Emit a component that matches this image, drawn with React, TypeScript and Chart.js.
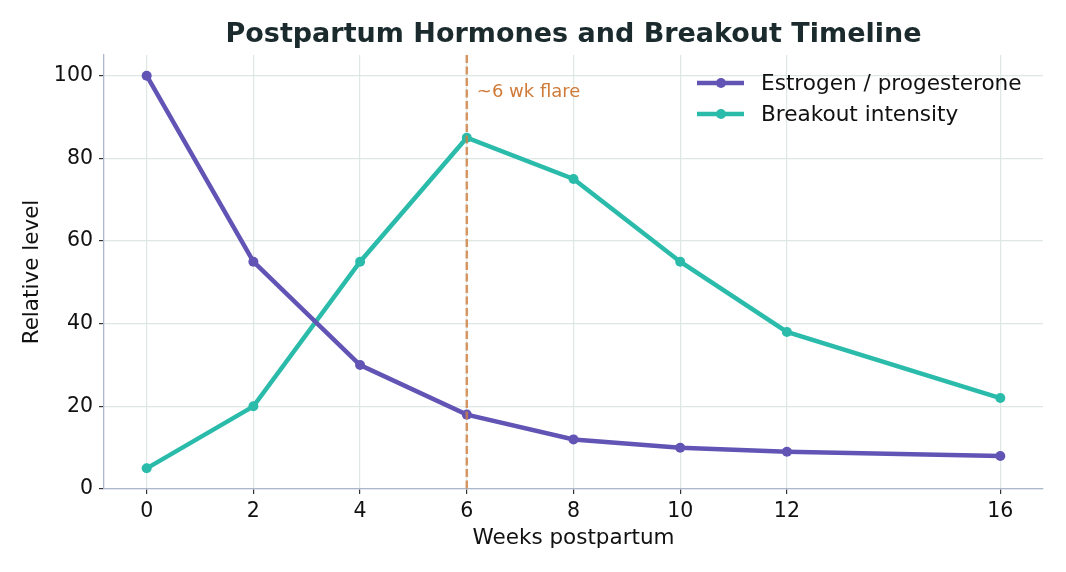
import React, { useEffect, useRef } from "react";
import { Chart, registerables } from "chart.js";

Chart.register(...registerables);

// Weeks after delivery and the relative levels plotted for each series
const weeks = [0, 2, 4, 6, 8, 10, 12, 16];
const estrogenProgesterone = [100, 55, 30, 18, 12, 10, 9, 8];
const breakoutIntensity = [5, 20, 55, 85, 75, 55, 38, 22];

const xTickValues = [0, 2, 4, 6, 8, 10, 12, 16];
const yTickValues = [0, 20, 40, 60, 80, 100];
const flareWeek = 6;
const flareLabel = "~6 wk flare";

const titleText = "Postpartum Hormones and Breakout Timeline";
const xAxisLabel = "Weeks postpartum";
const yAxisLabel = "Relative level";
const seriesNames = ["Estrogen / progesterone", "Breakout intensity"];

const PURPLE = "#6254b5";
const TEAL = "#2bbbaa";
const FONT = "'DejaVu Sans', 'Liberation Sans', sans-serif";

const overlayPlugin = {
  id: "overlay",
  afterDatasetsDraw(chart: any) {
    const { ctx, chartArea, scales } = chart;
    const xs = scales.x;
    const ys = scales.y;
    const fx = xs.getPixelForValue(flareWeek);
    ctx.save();
    // vertical dashed marker at the flare week
    ctx.strokeStyle = "rgba(208, 128, 64, 0.8)";
    ctx.lineWidth = 2.5;
    ctx.setLineDash([8, 3.5]);
    ctx.beginPath();
    ctx.moveTo(fx, chartArea.top);
    ctx.lineTo(fx, chartArea.bottom);
    ctx.stroke();
    ctx.setLineDash([]);
    ctx.fillStyle = "#d07a38";
    ctx.font = `18px ${FONT}`;
    ctx.textAlign = "left";
    ctx.textBaseline = "middle";
    ctx.fillText(flareLabel, fx + 10, ys.getPixelForValue(96));
    ctx.restore();
  },
  afterDraw(chart: any) {
    const { ctx, chartArea } = chart;
    const cx = (chartArea.left + chartArea.right) / 2;
    ctx.save();
    // title
    ctx.fillStyle = "#1a2a2d";
    ctx.font = `bold 27px ${FONT}`;
    ctx.textAlign = "center";
    ctx.textBaseline = "middle";
    ctx.fillText(titleText, cx, 35);
    // axis titles
    ctx.fillStyle = "#111";
    ctx.font = `21.5px ${FONT}`;
    ctx.fillText(xAxisLabel, cx, 538);
    ctx.save();
    ctx.translate(32, (chartArea.top + chartArea.bottom) / 2);
    ctx.rotate(-Math.PI / 2);
    ctx.fillText(yAxisLabel, 0, 0);
    ctx.restore();
    // legend
    const colors = [PURPLE, TEAL];
    const lx0 = chartArea.right - 346;
    const rows = [83, 114];
    ctx.textAlign = "left";
    ctx.font = `21.6px ${FONT}`;
    for (let i = 0; i < 2; i++) {
      const y = rows[i];
      ctx.strokeStyle = colors[i];
      ctx.lineWidth = 4.5;
      ctx.beginPath();
      ctx.moveTo(lx0, y);
      ctx.lineTo(lx0 + 47, y);
      ctx.stroke();
      ctx.fillStyle = colors[i];
      ctx.beginPath();
      ctx.arc(lx0 + 24, y, 5, 0, Math.PI * 2);
      ctx.fill();
      ctx.fillStyle = "#111";
      ctx.fillText(seriesNames[i], lx0 + 64, y + 1);
    }
    ctx.restore();
  },
};

export default function App() {
  const canvasRef = useRef<HTMLCanvasElement | null>(null);

  useEffect(() => {
    if (!canvasRef.current) return;
    Chart.defaults.font.family = FONT;
    const chart = new Chart(canvasRef.current, {
      type: "line",
      data: {
        datasets: [
          {
            label: seriesNames[0],
            data: weeks.map((w, i) => ({ x: w, y: estrogenProgesterone[i] })),
            borderColor: PURPLE,
            backgroundColor: PURPLE,
            borderWidth: 4.5,
            pointRadius: 5,
            pointBorderWidth: 0,
            pointBackgroundColor: PURPLE,
            tension: 0,
          },
          {
            label: seriesNames[1],
            data: weeks.map((w, i) => ({ x: w, y: breakoutIntensity[i] })),
            borderColor: TEAL,
            backgroundColor: TEAL,
            borderWidth: 4.5,
            pointRadius: 5,
            pointBorderWidth: 0,
            pointBackgroundColor: TEAL,
            tension: 0,
          },
        ],
      },
      options: {
        responsive: false,
        animation: false,
        devicePixelRatio: 1,
        layout: { padding: { left: 0, right: 23, top: 55, bottom: 0 } },
        plugins: {
          legend: { display: false },
          title: { display: false },
          tooltip: { enabled: false },
        },
        scales: {
          x: {
            type: "linear",
            min: -0.8,
            max: 16.8,
            afterBuildTicks: (axis: any) => {
              axis.ticks = xTickValues.map((v) => ({ value: v }));
            },
            afterFit: (scale: any) => {
              scale.height = 83;
            },
            ticks: {
              color: "#111",
              font: { size: 20.5, family: FONT },
              padding: 5,
              maxRotation: 0,
              autoSkip: false,
              callback: (v: any) => String(v),
            },
            grid: {
              color: "#dde8e5",
              lineWidth: 1.2,
              tickColor: "#333",
              tickLength: 5,
              drawTicks: true,
            },
            border: { display: true, color: "#aab7cc", width: 1.3 },
          },
          y: {
            type: "linear",
            min: 0,
            max: 105,
            afterBuildTicks: (axis: any) => {
              axis.ticks = yTickValues.map((v) => ({ value: v }));
            },
            afterFit: (scale: any) => {
              scale.width = 104;
            },
            ticks: {
              color: "#111",
              font: { size: 20.5, family: FONT },
              padding: 6,
              callback: (v: any) => String(v),
            },
            grid: {
              color: "#dde8e5",
              lineWidth: 1.2,
              tickColor: "#333",
              tickLength: 5,
              drawTicks: true,
            },
            border: { display: true, color: "#aab7cc", width: 1.3 },
          },
        },
      },
      plugins: [overlayPlugin],
    });
    return () => chart.destroy();
  }, []);

  return (
    <div style={{ position: "fixed", left: 0, top: 0, width: 1066, height: 572, background: "#fff" }}>
      <canvas ref={canvasRef} width={1066} height={572} />
    </div>
  );
}
